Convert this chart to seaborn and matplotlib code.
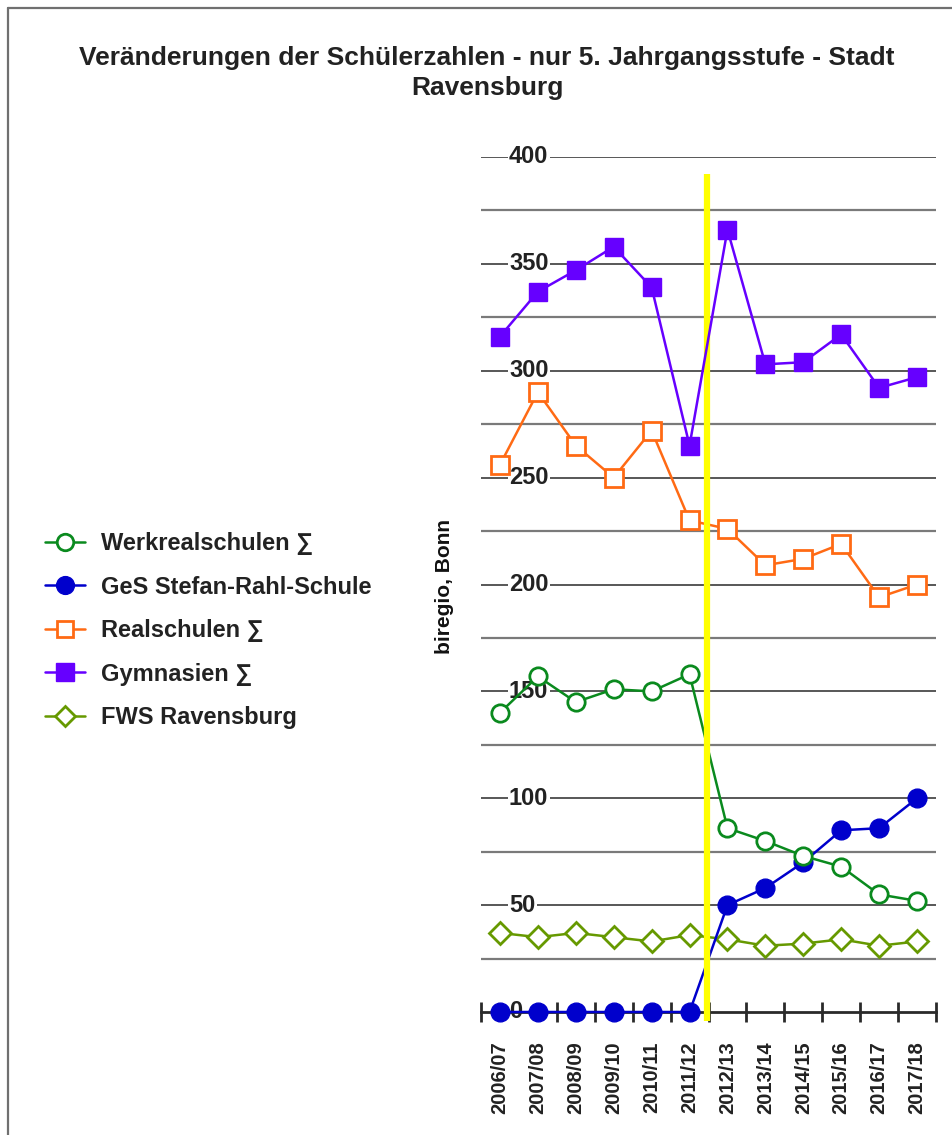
import matplotlib
matplotlib.use("Agg")
import matplotlib.pyplot as plt
from matplotlib.lines import Line2D
import matplotlib.transforms as mtransforms
import seaborn as sns
import pandas as pd
import numpy as np

sns.set_theme(style="white")
plt.rcParams['font.family'] = ['Liberation Sans', 'DejaVu Sans']

years = ["2006/07", "2007/08", "2008/09", "2009/10", "2010/11", "2011/12",
         "2012/13", "2013/14", "2014/15", "2015/16", "2016/17", "2017/18"]
werkreal = [140, 157, 145, 151, 150, 158, 86, 80, 73, 68, 55, 52]
ges = [0, 0, 0, 0, 0, 0, 50, 58, 70, 85, 86, 100]
realschulen = [256, 290, 265, 250, 272, 230, 226, 209, 212, 219, 194, 200]
gymnasien = [316, 337, 347, 358, 339, 265, 366, 303, 304, 317, 292, 297]
fws = [37, 35, 37, 35, 33, 36, 34, 31, 32, 34, 31, 33]

series_names = ["Werkrealschulen \u2211", "GeS Stefan-Rahl-Schule", "Realschulen \u2211",
                "Gymnasien \u2211", "FWS Ravensburg"]
series_values = [werkreal, ges, realschulen, gymnasien, fws]
colors = ["#0a8a1e", "#0000cc", "#ff6a14", "#6600ff", "#669900"]
markers = ["o", "o", "s", "s", "D"]
filled = [False, True, False, True, False]
msizes = [12.5, 13.5, 12.5, 13.5, 11]
zorders = [3.2, 3.1, 3.3, 5.0, 3.0]

title = "Veränderungen der Schülerzahlen - nur 5. Jahrgangsstufe - Stadt\nRavensburg"
ylabel = "biregio, Bonn"
yticks = [0, 50, 100, 150, 200, 250, 300, 350, 400]

W, H = 952, 1135
fig = plt.figure(figsize=(W / 100, H / 100), dpi=100)
left, right, top, bottom = 481, 936, 157, 1012
ax = fig.add_axes([left / W, 1 - bottom / H, (right - left) / W, (bottom - top) / H])
ax.set_facecolor("white")

# frame
fig.add_artist(Line2D([8 / W, 8 / W], [0, 1 - 8 / H], transform=fig.transFigure, color="#707070", lw=1.6))
fig.add_artist(Line2D([8 / W, 1], [1 - 8 / H, 1 - 8 / H], transform=fig.transFigure, color="#707070", lw=1.6))

# gridlines
for v in range(25, 401, 25):
    if v % 50 == 0:
        ax.axhline(v, color="#2a2a2a", lw=1.1, zorder=1)
    else:
        ax.axhline(v, color="#7a7a7a", lw=1.6, zorder=1)

ax.set_xlim(-0.5, 11.5)
ax.set_ylim(0, 400)

# y value labels inside plot
trans = mtransforms.blended_transform_factory(ax.transAxes, ax.transData)
for v in yticks:
    ax.text(28 / (right - left), v, str(v), transform=trans, ha="left", va="center",
            fontsize=17, fontweight="bold", color="#222222", zorder=1.5,
            bbox=dict(facecolor="white", edgecolor="none", pad=1.0))

# yellow line
ax.plot([5.45, 5.45], [-4, 392], color="#ffff00", lw=4.5, zorder=4, clip_on=False, solid_capstyle="butt")

for i in range(5):
    d = pd.DataFrame({"x": np.arange(len(years)), "y": series_values[i]})
    kw = dict(marker=markers[i], markersize=msizes[i], markeredgecolor=colors[i],
              markeredgewidth=2.0 if not filled[i] else 1.0,
              markerfacecolor=colors[i] if filled[i] else "white")
    sns.lineplot(data=d, x="x", y="y", ax=ax, color=colors[i], lw=1.8, zorder=zorders[i],
                 clip_on=False, legend=False, **kw)

for s in ["top", "left", "right"]:
    ax.spines[s].set_visible(False)
ax.spines["bottom"].set_color("#2a2a2a")
ax.spines["bottom"].set_linewidth(2)
ax.spines["bottom"].set_zorder(2)

ax.set_xticks(np.arange(-0.5, 12, 1))
ax.set_xticklabels([])
ax.tick_params(axis="x", which="major", direction="inout", length=15, width=2, color="#2a2a2a", bottom=True)
ax.set_xticks(np.arange(len(years)), minor=True)
ax.set_xticklabels(years, minor=True, rotation=90, fontsize=14.5, fontweight="bold", color="#222222")
ax.tick_params(axis="x", which="minor", length=0, pad=21)
ax.set_yticks([])
ax.set_xlabel("")
ax.set_ylabel("")

fig.text(445 / W, 1 - 586 / H, ylabel, rotation=90, ha="center", va="center",
         fontsize=15, fontweight="bold", color="#111111")

fig.text(487 / W, 1 - 73 / H, title, ha="center", va="center", fontsize=19,
         fontweight="bold", color="#222222", linespacing=1.28)

handles = []
for i in range(5):
    handles.append(Line2D([], [], color=colors[i], lw=1.8, marker=markers[i], markersize=msizes[i] * 0.95,
                          markeredgecolor=colors[i], markeredgewidth=2.0 if not filled[i] else 1.0,
                          markerfacecolor=colors[i] if filled[i] else "white"))
leg = fig.legend(handles, series_names, loc="upper left", bbox_to_anchor=(45 / W, 1 - 532 / H),
                 frameon=False, prop=dict(size=17, weight="bold"), handlelength=1.7,
                 handletextpad=0.68, labelspacing=0.87, borderaxespad=0, borderpad=0)
for t in leg.get_texts():
    t.set_color("#222222")

fig.savefig("out.png", dpi=100)
